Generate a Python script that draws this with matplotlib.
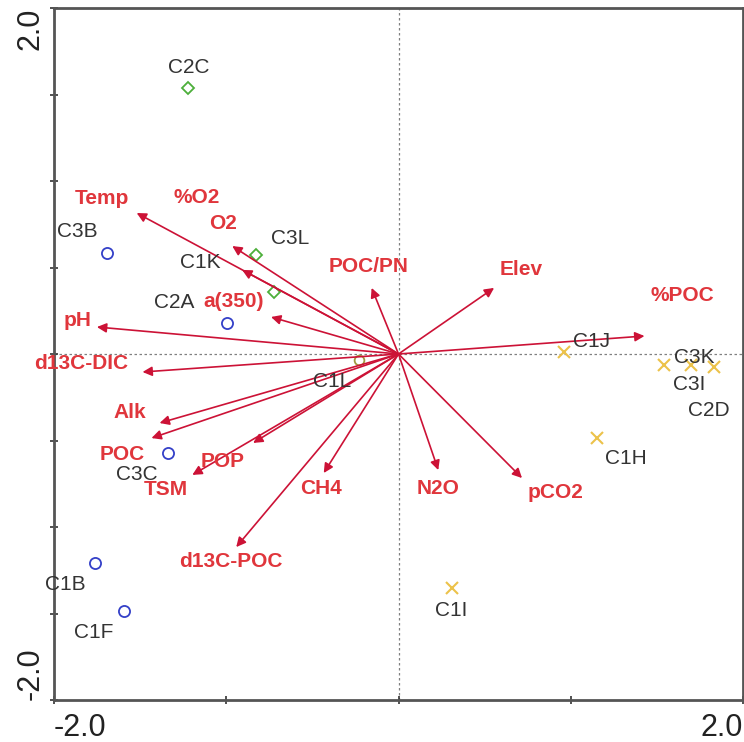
"""
RDA biplot: environmental vectors and site scores on the first two axes.
"""

import matplotlib.pyplot as plt

plt.rcParams['font.family'] = ['Liberation Sans', 'DejaVu Sans']

# Environmental variable vectors (axis 1, axis 2)
env_names = ['Temp', '%O2', 'O2', 'a(350)', 'pH', 'd13C-DIC', 'Alk', 'POC',
             'POP', 'TSM', 'CH4', 'd13C-POC', 'N2O', 'pCO2', 'Elev', '%POC',
             'POC/PN']
env_x = [-1.52, -0.965, -0.908, -0.740, -1.751, -1.486, -1.387, -1.434,
         -0.844, -1.197, -0.434, -0.942, 0.231, 0.717, 0.555, 1.428, -0.156]
env_y = [0.815, 0.624, 0.486, 0.214, 0.156, -0.104, -0.399, -0.486,
         -0.514, -0.699, -0.688, -1.116, -0.671, -0.717, 0.382, 0.104, 0.382]

# Site scores by group
circle_sites = ['C3B', 'C2A', 'C3C', 'C1B', 'C1F']
circle_x = [-1.694, -0.994, -1.341, -1.763, -1.595]
circle_y = [0.584, 0.179, -0.572, -1.208, -1.486]

diamond_sites = ['C2C', 'C3L', 'C1K']
diamond_x = [-1.220, -0.827, -0.723]
diamond_y = [1.538, 0.572, 0.358]

other_sites = ['C1L']
other_x = [-0.231]
other_y = [-0.035]

cross_sites = ['C1J', 'C3K', 'C3I', 'C2D', 'C1H', 'C1I']
cross_x = [0.960, 1.543, 1.699, 1.832, 1.150, 0.312]
cross_y = [0.012, -0.064, -0.064, -0.075, -0.486, -1.353]

# label placement, pixel offsets from the arrow tip / site
env_offsets = {
    'Temp': (-35, 15), '%O2': (-36, 49), 'O2': (-19, 46), 'a(350)': (-37, 15),
    'pH': (-19, 7), 'd13C-DIC': (-61, 8), 'Alk': (-30, 11), 'POC': (-29, -16),
    'POP': (-30, -19), 'TSM': (-27, -15), 'CH4': (-3, -15),
    'd13C-POC': (-5, -14), 'N2O': (0, -18), 'pCO2': (34, -14),
    'Elev': (27, 18), '%POC': (38, 41), 'POC/PN': (-3, 21),
}
site_offsets = {
    'C2C': (0, 20), 'C3L': (34, 17), 'C1K': (-74, 30), 'C3B': (-29, 21),
    'C2A': (-53, 21), 'C3C': (-31, -22), 'C1B': (-30, -22), 'C1F': (-30, -21),
    'C1L': (-27, -21), 'C1J': (28, 10), 'C3K': (30, 8), 'C3I': (-2, -19),
    'C2D': (-5, -44), 'C1H': (29, -20), 'C1I': (-1, -22),
}

ARROW_COLOR = '#cc1236'
ENV_TEXT = '#e0363c'
SITE_TEXT = '#333333'

fig = plt.figure(figsize=(7.44, 7.42), dpi=100)
W, H = 744, 742
ax = fig.add_axes([54 / W, 42 / H, 689 / W, 692 / H])
ax.set_xlim(-2, 2)
ax.set_ylim(-2, 2)

# zero lines
ax.axhline(0, color='#808080', lw=0.9, ls=(0, (2, 2)), zorder=1)
ax.axvline(0, color='#808080', lw=0.9, ls=(0, (2, 2)), zorder=1)

# environmental arrows
for name, x, y in zip(env_names, env_x, env_y):
    ax.annotate('', xy=(x, y), xytext=(0, 0),
                arrowprops=dict(arrowstyle='-|>', color=ARROW_COLOR, lw=1.2,
                                mutation_scale=14, shrinkA=0, shrinkB=0),
                zorder=3)
    dx, dy = env_offsets[name]
    ax.annotate(name, (x, y), xytext=(dx, dy), textcoords='offset pixels',
                ha='center', va='center', fontsize=15, fontweight='bold',
                color=ENV_TEXT, zorder=4)

# sites
ax.plot(circle_x, circle_y, 'o', ms=8, mfc='none', mec='#3440c8', mew=1.3, zorder=2)
ax.plot(diamond_x, diamond_y, 'D', ms=6.5, mfc='none', mec='#4caf3a', mew=1.3, zorder=2)
ax.plot(other_x, other_y, 'o', ms=7, mfc='none', mec='#a09a40', mew=1.3, zorder=2)
ax.plot(cross_x, cross_y, 'x', ms=8, mec='#ecc24a', mew=1.5, zorder=2)

for names, xs, ys in [(circle_sites, circle_x, circle_y),
                      (diamond_sites, diamond_x, diamond_y),
                      (other_sites, other_x, other_y),
                      (cross_sites, cross_x, cross_y)]:
    for name, x, y in zip(names, xs, ys):
        dx, dy = site_offsets[name]
        ax.annotate(name, (x, y), xytext=(dx, dy), textcoords='offset pixels',
                    ha='center', va='center', fontsize=15, color=SITE_TEXT,
                    zorder=4)

# frame and ticks
for spine in ax.spines.values():
    spine.set_color('#555555')
    spine.set_linewidth(2)

ax.set_xticks([-2, -1, 0, 1, 2])
ax.set_xticklabels(['-2.0', '', '', '', '2.0'])
ax.set_yticks([-2, -1.5, -1, -0.5, 0, 0.5, 1, 1.5, 2])
ax.set_yticklabels(['-2.0', '', '', '', '', '', '', '', '2.0'], rotation=90)
ax.tick_params(direction='inout', length=6, width=1.2, color='#333333',
               labelsize=22, labelcolor='#222222')
ax.tick_params(axis='x', pad=6)
ax.tick_params(axis='y', pad=14)

xl = ax.get_xticklabels()
xl[0].set_ha('left')
xl[-1].set_ha('right')
yl = ax.get_yticklabels()
yl[0].set_va('bottom')
yl[-1].set_va('top')
for lab in yl:
    lab.set_ha('center')

fig.savefig('out.png', dpi=100)
